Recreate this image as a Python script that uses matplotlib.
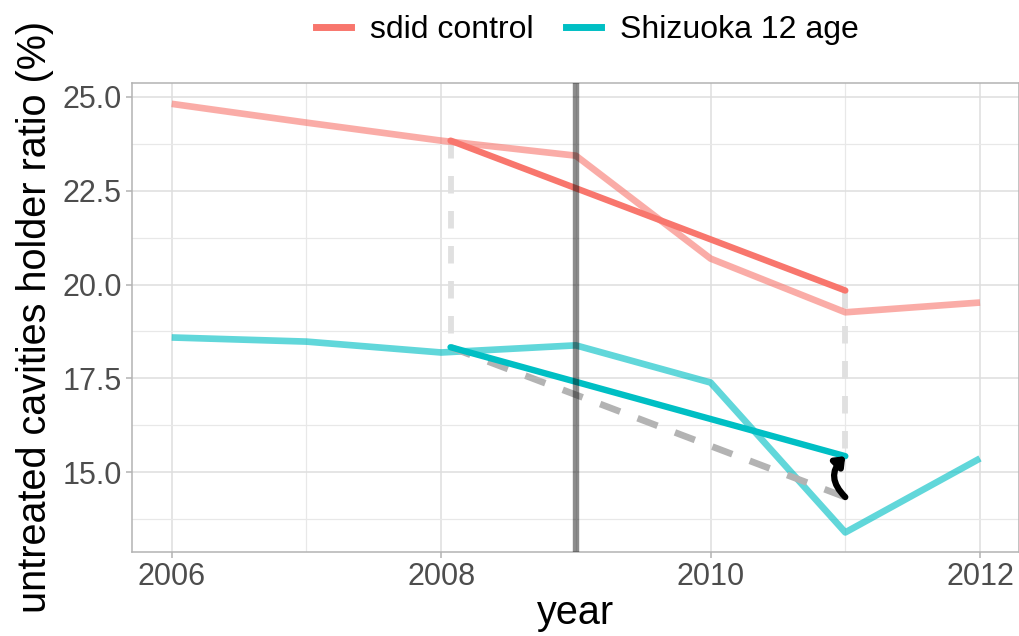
import matplotlib
matplotlib.use('Agg')
import matplotlib.pyplot as plt
from matplotlib.lines import Line2D
from matplotlib.patches import FancyArrowPatch

plt.rcParams['font.family'] = ['Liberation Sans', 'DejaVu Sans']

# data
years = [2006, 2007, 2008, 2009, 2010, 2011, 2012]
control = [24.81, 24.31, 23.83, 23.43, 20.69, 19.26, 19.52]
treated = [18.59, 18.48, 18.19, 18.38, 17.39, 13.40, 15.37]

seg_x = [2008.07, 2011.0]
control_seg = [23.83, 19.84]
treated_seg = [18.33, 15.43]
counterfactual_seg = [18.33, 14.34]
treat_year = 2009

red = '#F8766D'
teal = '#00BFC4'

fig = plt.figure(figsize=(10.2, 6.36), dpi=100)
ax = fig.add_axes([0.1291, 0.1321, 0.8696, 0.7379])

# gridlines
ax.set_xticks([2006, 2008, 2010, 2012])
ax.set_xticks([2007, 2009, 2011], minor=True)
ax.set_yticks([15.0, 17.5, 20.0, 22.5, 25.0])
ax.set_yticks([13.75, 16.25, 18.75, 21.25, 23.75], minor=True)
ax.set_yticklabels(['15.0', '17.5', '20.0', '22.5', '25.0'])
ax.grid(which='major', color='#dedede', lw=1.1)
ax.grid(which='minor', color='#e8e8e8', lw=0.9)
ax.set_axisbelow(True)

# dashed light verticals
ax.plot([seg_x[0], seg_x[0]], [control_seg[0], treated_seg[0]], color='#e0e0e0',
        lw=4.2, ls=(0, (3, 3)), zorder=2)
ax.plot([seg_x[1], seg_x[1]], [control_seg[1], treated_seg[1]], color='#e0e0e0',
        lw=4.2, ls=(0, (3, 3)), zorder=2)

# raw series
ax.plot(years, control, color=red, alpha=0.6, lw=4.8, zorder=3, solid_capstyle='butt')
ax.plot(years, treated, color=teal, alpha=0.62, lw=4.8, zorder=3, solid_capstyle='butt')

# weighted averages
ax.plot(seg_x, counterfactual_seg, color='#b3b3b3', lw=4.8, ls=(0, (3.2, 2.8)), zorder=4)
ax.plot(seg_x, control_seg, color=red, lw=4.6, zorder=5, solid_capstyle='round')
ax.plot(seg_x, treated_seg, color=teal, lw=4.6, zorder=5, solid_capstyle='round')

# treatment time
ax.axvline(treat_year, color='black', alpha=0.45, lw=4.6, zorder=6)

# effect arrow
arrow = FancyArrowPatch((seg_x[1], counterfactual_seg[1]), (seg_x[1], treated_seg[1]),
                        connectionstyle='arc3,rad=-0.5', arrowstyle='-|>,head_length=5,head_width=4',
                        color='black', lw=4.5, zorder=7, shrinkA=0, shrinkB=0)
ax.add_patch(arrow)

ax.set_xlim(2005.703, 2012.287)
ax.set_ylim(12.879, 25.373)

for s in ax.spines.values():
    s.set_color('#b3b3b3')
    s.set_linewidth(1.1)
ax.tick_params(which='major', length=4, width=1.1, color='#b3b3b3', labelcolor='#4d4d4d',
               labelsize=22, pad=3)
ax.tick_params(which='minor', length=0)

ax.set_xlabel('year', fontsize=28.5, labelpad=2)
ax.set_ylabel('untreated cavities holder ratio (%)', fontsize=28.5, labelpad=6)

handles = [Line2D([], [], color=red, lw=5), Line2D([], [], color=teal, lw=5)]
fig.legend(handles, ['sdid control', 'Shizuoka 12 age'], loc='center', bbox_to_anchor=(0.576, 0.953),
           ncol=2, frameon=False, fontsize=23, handlelength=1.1, handletextpad=0.6, columnspacing=1.0)

fig.savefig('out.png', dpi=100)
